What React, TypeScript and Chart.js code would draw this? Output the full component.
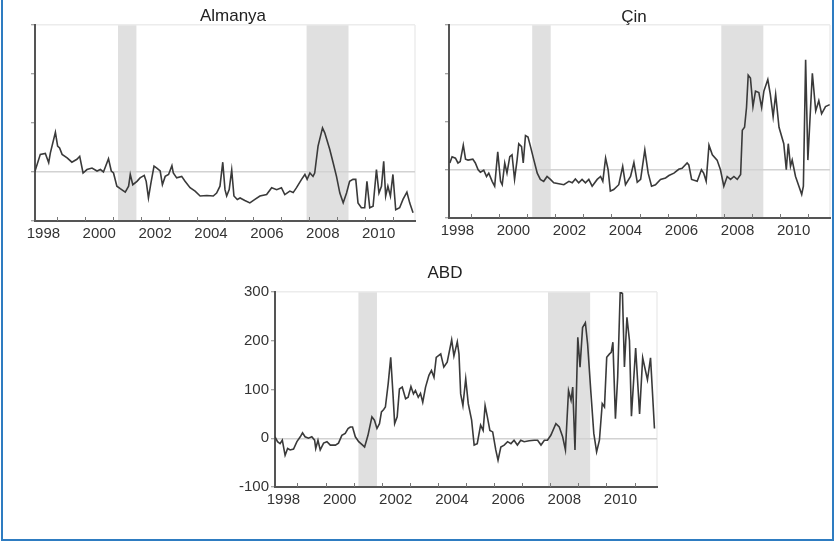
import React, { useEffect, useRef } from 'react';
import { Chart, registerables } from 'chart.js';

Chart.register(...registerables);

// ---- axis definitions ----
const yTickValues = [-100, 0, 100, 200, 300];
const xLabelYears = [1998, 2000, 2002, 2004, 2006, 2008, 2010];
const xTickYears = [1999, 2000, 2001, 2002, 2003, 2004, 2005, 2006, 2007, 2008, 2009, 2010, 2011];
const recessionStarts = [2001.17, 2007.92];
const recessionEnds = [2001.83, 2009.42];

// ---- Almanya ----
const almanyaDates = [
  1998.19, 1998.39, 1998.57, 1998.69, 1998.75, 1998.93, 1999.01, 1999.08, 1999.17, 1999.35,
  1999.52, 1999.7, 1999.8, 1999.92, 2000.06, 2000.24, 2000.42, 2000.54, 2000.65, 2000.83,
  2000.93, 2001.01, 2001.13, 2001.25, 2001.43, 2001.55, 2001.61, 2001.7, 2001.85, 2001.96,
  2002.11, 2002.18, 2002.26, 2002.35, 2002.46, 2002.56, 2002.68, 2002.76, 2002.86, 2002.98,
  2003.1, 2003.15, 2003.27, 2003.45, 2003.57, 2003.75, 2003.93, 2004.11, 2004.35, 2004.58,
  2004.7, 2004.82, 2004.92, 2005.0, 2005.06, 2005.15, 2005.24, 2005.32, 2005.44, 2005.54,
  2005.71, 2005.89, 2006.07, 2006.25, 2006.49, 2006.67, 2006.85, 2007.02, 2007.14, 2007.32,
  2007.44, 2007.56, 2007.74, 2007.86, 2007.94, 2008.04, 2008.15, 2008.21, 2008.33, 2008.49,
  2008.57, 2008.75, 2008.87, 2008.99, 2009.11, 2009.23, 2009.35, 2009.46, 2009.58, 2009.68,
  2009.76, 2009.88, 2010.0, 2010.08, 2010.18, 2010.3, 2010.42, 2010.51, 2010.6, 2010.68,
  2010.75, 2010.83, 2010.92, 2011.01, 2011.11, 2011.25, 2011.37, 2011.51, 2011.61, 2011.73,
];
const almanyaValues = [
  0, 36, 38, 19, 39, 81, 53, 49, 36, 29,
  20, 26, 32, -2, 5, 8, 2, 5, 0, 27,
  2, -2, -29, -34, -41, -29, -5, -26, -19, -12,
  -7, -19, -53, -22, 12, 8, 2, -26, -9, -5,
  13, -2, -12, -9, -19, -32, -39, -49, -48, -49,
  -43, -29, 20, -36, -49, -36, 4, -49, -56, -53,
  -58, -63, -56, -49, -46, -32, -36, -32, -46, -39,
  -42, -32, -15, -5, -15, -2, -9, -2, 53, 90,
  80, 46, 19, -9, -43, -63, -43, -19, -15, -15,
  -63, -73, -73, -19, -73, -70, 5, -43, -29, 22,
  -49, -29, -49, -5, -77, -73, -56, -41, -63, -83,
];

// ---- Çin ----
const cinDates = [
  1998.23, 1998.31, 1998.43, 1998.52, 1998.6, 1998.71, 1998.79, 1998.88, 1999.05, 1999.14,
  1999.24, 1999.32, 1999.44, 1999.54, 1999.62, 1999.74, 1999.83, 1999.94, 2000.04, 2000.1,
  2000.19, 2000.27, 2000.37, 2000.45, 2000.54, 2000.63, 2000.69, 2000.79, 2000.85, 2000.93,
  2001.02, 2001.11, 2001.23, 2001.35, 2001.46, 2001.58, 2001.7, 2001.82, 2001.94, 2002.12,
  2002.3, 2002.48, 2002.6, 2002.71, 2002.83, 2002.95, 2003.07, 2003.19, 2003.31, 2003.49,
  2003.61, 2003.69, 2003.79, 2003.88, 2003.96, 2004.08, 2004.26, 2004.4, 2004.5, 2004.68,
  2004.8, 2004.92, 2005.04, 2005.19, 2005.31, 2005.43, 2005.57, 2005.75, 2005.93, 2006.05,
  2006.23, 2006.4, 2006.52, 2006.7, 2006.76, 2006.86, 2007.06, 2007.21, 2007.29, 2007.38,
  2007.48, 2007.6, 2007.77, 2007.89, 2008.01, 2008.13, 2008.25, 2008.37, 2008.49, 2008.61,
  2008.67, 2008.75, 2008.82, 2008.88, 2008.96, 2009.05, 2009.14, 2009.26, 2009.36, 2009.44,
  2009.58, 2009.67, 2009.77, 2009.86, 2009.98, 2010.15, 2010.24, 2010.31, 2010.39, 2010.45,
  2010.57, 2010.69, 2010.79, 2010.85, 2010.93, 2011.01, 2011.17, 2011.29, 2011.4, 2011.5,
  2011.64, 2011.79,
];
const cinValues = [
  14, 27, 24, 14, 17, 51, 22, 20, 22, 14,
  0, -5, -1, -14, -7, -24, -34, 37, -24, -31,
  14, -7, 27, 31, -20, 20, 54, 48, 14, 71,
  68, 48, 20, -7, -20, -24, -14, -20, -27, -29,
  -31, -24, -27, -19, -27, -20, -27, -20, -34, -20,
  -14, -24, 24, 0, -44, -41, -31, 7, -31, -14,
  15, -26, -20, 41, -7, -34, -31, -20, -17, -12,
  -7, 1, 3, 14, 10, -20, -24, 0, -7, -24,
  51, 31, 20, 0, -34, -14, -20, -14, -20, -10,
  82, 88, 129, 196, 190, 131, 163, 160, 129, 163,
  187, 156, 110, 156, 88, 54, 0, 54, 7, 20,
  -14, -34, -51, -34, 228, 20, 200, 122, 143, 116,
  131, 135,
];

// ---- ABD ----
const abdDates = [
  1998.2, 1998.29, 1998.38, 1998.46, 1998.56, 1998.65, 1998.74, 1998.86, 1998.98, 1999.1,
  1999.18, 1999.27, 1999.39, 1999.51, 1999.61, 1999.65, 1999.73, 1999.81, 1999.93, 2000.05,
  2000.17, 2000.35, 2000.46, 2000.58, 2000.7, 2000.8, 2000.88, 2000.96, 2001.06, 2001.18,
  2001.32, 2001.39, 2001.51, 2001.65, 2001.74, 2001.83, 2001.92, 2001.99, 2002.07, 2002.13,
  2002.23, 2002.32, 2002.4, 2002.46, 2002.55, 2002.63, 2002.73, 2002.85, 2002.94, 2003.04,
  2003.13, 2003.2, 2003.3, 2003.38, 2003.46, 2003.56, 2003.68, 2003.77, 2003.86, 2003.94,
  2004.1, 2004.21, 2004.33, 2004.49, 2004.57, 2004.69, 2004.75, 2004.81, 2004.89, 2004.99,
  2005.08, 2005.2, 2005.29, 2005.4, 2005.52, 2005.61, 2005.68, 2005.76, 2005.85, 2005.95,
  2006.06, 2006.14, 2006.24, 2006.36, 2006.48, 2006.6, 2006.71, 2006.83, 2006.95, 2007.07,
  2007.25, 2007.43, 2007.55, 2007.67, 2007.79, 2007.9, 2008.02, 2008.2, 2008.32, 2008.44,
  2008.54, 2008.65, 2008.74, 2008.8, 2008.88, 2008.98, 2009.06, 2009.15, 2009.25, 2009.33,
  2009.45, 2009.55, 2009.65, 2009.75, 2009.85, 2009.93, 2010.01, 2010.11, 2010.17, 2010.23,
  2010.32, 2010.4, 2010.49, 2010.57, 2010.64, 2010.73, 2010.82, 2010.89, 2011.04, 2011.18,
  2011.29, 2011.46, 2011.57, 2011.71,
];
const abdValues = [
  3, -7, -11, -4, -35, -21, -24, -22, -7, 3,
  11, 3, 0, 3, -4, -21, -4, -24, -10, -7,
  -14, -14, -10, 6, 10, 20, 23, 23, 3, -7,
  -14, -18, 6, 44, 37, 20, 30, 54, 59, 64,
  112, 166, 91, 30, 44, 101, 105, 81, 84, 106,
  91, 98, 84, 92, 74, 105, 129, 139, 125, 166,
  173, 146, 156, 202, 169, 198, 173, 91, 67, 122,
  71, 37, -14, -11, 27, 16, 67, 44, 16, 13,
  -24, -45, -18, -14, -7, -11, -4, -14, -4, -7,
  -5, -4, -4, -14, -4, -4, 6, 30, 23, 3,
  -24, 98, 78, 105, -24, 207, 146, 227, 237, 193,
  91, 10, -28, -4, 71, 64, 166, 173, 176, 197,
  40, 125, 300, 297, 146, 248, 200, 45, 185, 50,
  165, 120, 165, 20,
];

const X_MIN = 1998.2;
const X_MAX = 2011.8;
const FONT = '"Liberation Sans", Arial, sans-serif';

type PanelCfg = {
  title: string;
  titleX: number;
  titleY: number;
  showYLabels: boolean;
  yAxisWidth: number;
  xAxisHeight: number;
  padding: { left: number; right: number; top: number; bottom: number };
};

function buildChart(canvas: HTMLCanvasElement, dates: number[], values: number[], cfg: PanelCfg) {
  const decorPlugin = {
    id: 'decor',
    beforeDraw(chart: any) {
      const { ctx, chartArea } = chart;
      const xs = chart.scales.x;
      ctx.save();
      ctx.fillStyle = '#e0e0e0';
      for (let i = 0; i < recessionStarts.length; i++) {
        const x1 = xs.getPixelForValue(recessionStarts[i]);
        const x2 = xs.getPixelForValue(recessionEnds[i]);
        ctx.fillRect(x1, chartArea.top, x2 - x1, chartArea.bottom - chartArea.top);
      }
      ctx.strokeStyle = '#ececec';
      ctx.lineWidth = 1.5;
      ctx.beginPath();
      ctx.moveTo(chartArea.right, chartArea.top);
      ctx.lineTo(chartArea.right, chartArea.bottom);
      ctx.stroke();
      ctx.restore();
    },
    afterDraw(chart: any) {
      const { ctx, chartArea } = chart;
      const xs = chart.scales.x;
      ctx.save();
      ctx.strokeStyle = '#777';
      ctx.lineWidth = 1;
      ctx.beginPath();
      for (const yr of xTickYears) {
        const px = Math.round(xs.getPixelForValue(yr)) + 0.5;
        ctx.moveTo(px, chartArea.bottom);
        ctx.lineTo(px, chartArea.bottom - 4);
      }
      ctx.stroke();
      ctx.font = `17px ${FONT}`;
      ctx.fillStyle = '#222';
      ctx.textAlign = 'center';
      ctx.textBaseline = 'alphabetic';
      ctx.fillText(cfg.title, cfg.titleX, cfg.titleY);
      ctx.restore();
    },
  };

  return new Chart(canvas, {
    type: 'line',
    data: {
      datasets: [
        {
          data: dates.map((d, i) => ({ x: d, y: values[i] })),
          borderColor: '#3a3a3a',
          borderWidth: 1.6,
          pointRadius: 0,
          tension: 0,
          fill: false,
        },
      ],
    },
    options: {
      animation: false,
      responsive: false,
      layout: { padding: cfg.padding },
      plugins: { legend: { display: false }, tooltip: { enabled: false }, title: { display: false } },
      scales: {
        x: {
          type: 'linear',
          min: X_MIN,
          max: X_MAX,
          afterBuildTicks: (scale: any) => {
            scale.ticks = xLabelYears.map((y) => ({ value: y + 0.5 }));
          },
          afterFit: (scale: any) => {
            scale.height = cfg.xAxisHeight;
          },
          ticks: {
            autoSkip: false,
            maxRotation: 0,
            padding: 4,
            color: '#333',
            font: { family: FONT, size: 15 },
            callback: (v: any) => String(Math.floor(Number(v))),
          },
          grid: { display: false, drawTicks: false },
          border: { display: true, color: '#555', width: 2 },
        },
        y: {
          type: 'linear',
          min: -100,
          max: 300,
          afterBuildTicks: (scale: any) => {
            scale.ticks = yTickValues.map((v) => ({ value: v }));
          },
          afterFit: (scale: any) => {
            scale.width = cfg.yAxisWidth;
          },
          ticks: {
            display: cfg.showYLabels,
            padding: 2,
            color: '#333',
            font: { family: FONT, size: 15 },
          },
          grid: {
            drawOnChartArea: true,
            drawTicks: true,
            tickLength: 4,
            tickColor: '#888',
            tickWidth: 1,
            lineWidth: 1.5,
            color: (c: any) =>
              c.tick && c.tick.value === 0 ? '#d2d2d2' : c.tick && c.tick.value === 300 ? '#ececec' : 'rgba(0,0,0,0)',
          },
          border: { display: true, color: '#555', width: 2 },
        },
      },
    },
    plugins: [decorPlugin],
  });
}

function Panel(props: {
  left: number;
  top: number;
  width: number;
  height: number;
  dates: number[];
  values: number[];
  cfg: PanelCfg;
}) {
  const ref = useRef<HTMLCanvasElement | null>(null);
  useEffect(() => {
    if (!ref.current) return;
    const chart = buildChart(ref.current, props.dates, props.values, props.cfg);
    return () => chart.destroy();
  }, []);
  return (
    <canvas
      ref={ref}
      width={props.width}
      height={props.height}
      style={{ position: 'absolute', left: props.left, top: props.top, width: props.width, height: props.height }}
    />
  );
}

export default function App() {
  return (
    <div style={{ position: 'absolute', left: 0, top: 0, width: 835, height: 545, background: '#fff', overflow: 'hidden' }}>
      <div
        style={{
          position: 'absolute',
          left: 1,
          top: -4,
          width: 829,
          height: 543,
          borderLeft: '2px solid #2e7cc1',
          borderRight: '2px solid #2e7cc1',
          borderBottom: '2px solid #2e7cc1',
        }}
      />
      <Panel
        left={0}
        top={0}
        width={425}
        height={250}
        dates={almanyaDates}
        values={almanyaValues}
        cfg={{
          title: 'Almanya',
          titleX: 233,
          titleY: 21,
          showYLabels: false,
          yAxisWidth: 35,
          xAxisHeight: 29,
          padding: { left: 0, right: 10, top: 25, bottom: 0 },
        }}
      />
      <Panel
        left={425}
        top={0}
        width={410}
        height={250}
        dates={cinDates}
        values={cinValues}
        cfg={{
          title: 'Çin',
          titleX: 209,
          titleY: 22,
          showYLabels: false,
          yAxisWidth: 24,
          xAxisHeight: 32,
          padding: { left: 0, right: 5, top: 25, bottom: 0 },
        }}
      />
      <Panel
        left={200}
        top={255}
        width={470}
        height={280}
        dates={abdDates}
        values={abdValues}
        cfg={{
          title: 'ABD',
          titleX: 245,
          titleY: 23,
          showYLabels: true,
          yAxisWidth: 75,
          xAxisHeight: 48,
          padding: { left: 0, right: 13, top: 37, bottom: 0 },
        }}
      />
    </div>
  );
}
